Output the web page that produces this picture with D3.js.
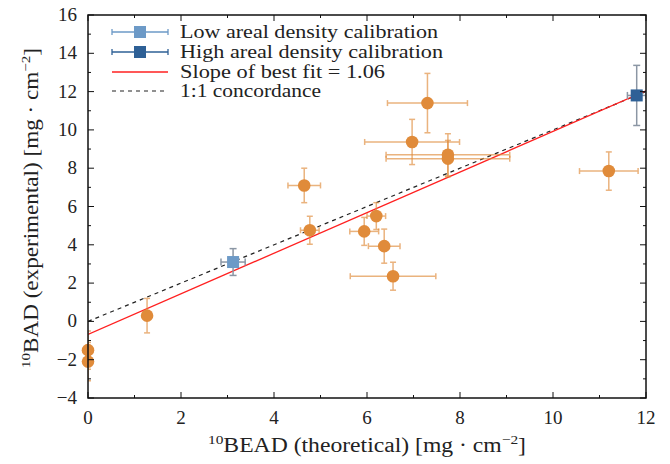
<!DOCTYPE html>
<html>
<head>
<meta charset="utf-8">
<script src="https://cdnjs.cloudflare.com/ajax/libs/d3/7.8.5/d3.min.js"></script>
<style>
  body { margin: 0; background: #fff; }
  svg text { font-family: "Liberation Serif", "DejaVu Serif", serif; fill: #222; }
</style>
</head>
<body>
<svg id="chart" width="670" height="464"></svg>
<script>
// sample points: theoretical x, experimental y, errors
const sampleX    = [0, 0, 1.27, 4.65, 4.77, 6.2, 5.94, 6.37, 6.56, 7.3, 6.97, 7.74, 7.74, 11.2]
const sampleY    = [-1.5, -2.1, 0.3, 7.1, 4.76, 5.5, 4.7, 3.93, 2.36, 11.4, 9.37, 8.7, 8.5, 7.85]
const sampleXErr = [0, 0, 0, 0.35, 0.2, 0.2, 0.31, 0.34, 0.92, 0.86, 1.02, 1.33, 1.33, 0.63]
const sampleYErr = [1.0, 1.0, 0.9, 0.9, 0.73, 0.7, 0.73, 0.89, 0.73, 1.55, 1.18, 1.1, 0.95, 1.0]

const calibNames = ["Low areal density calibration", "High areal density calibration"]
const calibX     = [3.12, 11.8]
const calibY     = [3.1, 11.8]
const calibXErr  = [0.26, 0.2]
const calibYErr  = [0.7, 1.57]

const fitSlope = 1.06
const fitIntercept = -0.68

const xTicks = [0, 2, 4, 6, 8, 10, 12]
const yTicks = [-4, -2, 0, 2, 4, 6, 8, 10, 12, 14, 16]

const svg = d3.select("#chart")
const pLeft = 88, pRight = 646, pTop = 15, pBottom = 398

const x = d3.scaleLinear().domain([0, 12]).range([pLeft, pRight])
const y = d3.scaleLinear().domain([-4, 16]).range([pBottom, pTop])

const orange = "#e08b3a"
const calibColors = ["#6d9ac7", "#2e6096"]

svg.append("defs").append("clipPath").attr("id", "clip")
  .append("rect").attr("x", pLeft).attr("y", pTop).attr("width", pRight - pLeft).attr("height", pBottom - pTop)

const plot = svg.append("g").attr("clip-path", "url(#clip)")

// lines
plot.append("line")
  .attr("x1", x(0)).attr("y1", y(0)).attr("x2", x(12)).attr("y2", y(12))
  .attr("stroke", "#222").attr("stroke-width", 1.2).attr("stroke-dasharray", "4,4")
plot.append("line")
  .attr("x1", x(0)).attr("y1", y(fitIntercept)).attr("x2", x(12)).attr("y2", y(fitSlope * 12 + fitIntercept))
  .attr("stroke", "#ff2020").attr("stroke-width", 1.3)

function errorBars(g, cx, cy, ex, ey, color, cap) {
  if (ex > 0) {
    g.append("line").attr("x1", x(cx - ex)).attr("x2", x(cx + ex)).attr("y1", y(cy)).attr("y2", y(cy))
      .attr("stroke", color).attr("stroke-width", 1.5)
    ;[cx - ex, cx + ex].forEach(v => g.append("line").attr("x1", x(v)).attr("x2", x(v))
      .attr("y1", y(cy) - cap).attr("y2", y(cy) + cap).attr("stroke", color).attr("stroke-width", 1.5))
  }
  g.append("line").attr("x1", x(cx)).attr("x2", x(cx)).attr("y1", y(cy - ey)).attr("y2", y(cy + ey))
    .attr("stroke", color).attr("stroke-width", 1.5)
  ;[cy - ey, cy + ey].forEach(v => g.append("line").attr("y1", y(v)).attr("y2", y(v))
    .attr("x1", x(cx) - cap).attr("x2", x(cx) + cap).attr("stroke", color).attr("stroke-width", 1.5))
}

const bars = plot.append("g")
sampleX.forEach((v, i) => {
  const g = bars.append("g").attr("opacity", 0.65)
  errorBars(g, v, sampleY[i], sampleXErr[i], sampleYErr[i], orange, 3)
})
// markers are not clipped
const pts = svg.append("g")
sampleX.forEach((v, i) => {
  pts.append("circle").attr("cx", x(v)).attr("cy", y(sampleY[i])).attr("r", 6.3).attr("fill", orange)
})

calibX.forEach((v, i) => {
  errorBars(plot.append("g"), v, calibY[i], calibXErr[i], calibYErr[i], "#8b96a4", 3.5)
  pts.append("rect").attr("x", x(v) - 6).attr("y", y(calibY[i]) - 6).attr("width", 12).attr("height", 12)
    .attr("fill", calibColors[i])
})

// frame and ticks
const frame = svg.append("g")
frame.append("rect").attr("x", pLeft).attr("y", pTop).attr("width", pRight - pLeft).attr("height", pBottom - pTop)
  .attr("fill", "none").attr("stroke", "#111").attr("stroke-width", 1.5)

d3.range(0, 12.01, 1).forEach(v => {
  const len = v % 2 === 0 ? 6 : 3
  frame.append("line").attr("x1", x(v)).attr("x2", x(v)).attr("y1", pBottom).attr("y2", pBottom - len).attr("stroke", "#111")
  frame.append("line").attr("x1", x(v)).attr("x2", x(v)).attr("y1", pTop).attr("y2", pTop + len).attr("stroke", "#111")
})
d3.range(-4, 16.01, 1).forEach(v => {
  const len = v % 2 === 0 ? 6 : 3
  frame.append("line").attr("y1", y(v)).attr("y2", y(v)).attr("x1", pLeft).attr("x2", pLeft + len).attr("stroke", "#111")
  frame.append("line").attr("y1", y(v)).attr("y2", y(v)).attr("x1", pRight).attr("x2", pRight - len).attr("stroke", "#111")
})

svg.selectAll("text.xtick").data(xTicks).enter().append("text")
  .attr("class", "xtick").attr("x", d => x(d)).attr("y", 424)
  .attr("text-anchor", "middle").attr("font-size", 19).text(d => d)

svg.selectAll("text.ytick").data(yTicks).enter().append("text")
  .attr("class", "ytick").attr("x", 77).attr("y", d => y(d) + 6)
  .attr("text-anchor", "end").attr("font-size", 19).text(d => d < 0 ? "\u2212" + (-d) : d)

// axis labels
const xl = svg.append("text").attr("x", 367).attr("y", 452).attr("text-anchor", "middle").attr("font-size", 20)
  .attr("textLength", 318).attr("lengthAdjust", "spacingAndGlyphs")
xl.append("tspan").attr("font-size", 13).attr("dy", -8).text("10")
xl.append("tspan").attr("dy", 8).text("BEAD (theoretical) [mg \u00b7 cm")
xl.append("tspan").attr("font-size", 13).attr("dy", -8).text("\u22122")
xl.append("tspan").attr("dy", 8).text("]")

const yl = svg.append("text").attr("transform", "translate(38,208) rotate(-90)")
  .attr("text-anchor", "middle").attr("font-size", 20)
  .attr("textLength", 320).attr("lengthAdjust", "spacingAndGlyphs")
yl.append("tspan").attr("font-size", 13).attr("dy", -8).text("10")
yl.append("tspan").attr("dy", 8).text("BAD (experimental) [mg \u00b7 cm")
yl.append("tspan").attr("font-size", 13).attr("dy", -8).text("\u22122")
yl.append("tspan").attr("dy", 8).text("]")

// legend
const legY = [32, 52, 72, 91]
const leg = svg.append("g")
calibNames.forEach((name, i) => {
  leg.append("line").attr("x1", 112).attr("x2", 168).attr("y1", legY[i]).attr("y2", legY[i])
    .attr("stroke", calibColors[i]).attr("stroke-width", 1.3)
  ;[112, 168].forEach(v => leg.append("line").attr("x1", v).attr("x2", v).attr("y1", legY[i] - 3).attr("y2", legY[i] + 3)
    .attr("stroke", calibColors[i]).attr("stroke-width", 1.3))
  leg.append("rect").attr("x", 134).attr("y", legY[i] - 6).attr("width", 12).attr("height", 12).attr("fill", calibColors[i])
})
leg.append("line").attr("x1", 112).attr("x2", 168).attr("y1", legY[2]).attr("y2", legY[2]).attr("stroke", "#ff2020").attr("stroke-width", 1.3)
leg.append("line").attr("x1", 112).attr("x2", 168).attr("y1", legY[3]).attr("y2", legY[3])
  .attr("stroke", "#222").attr("stroke-width", 1.2).attr("stroke-dasharray", "4,4")
const legText = [calibNames[0], calibNames[1], "Slope of best fit = 1.06", "1:1 concordance"]
const legWidth = [258, 263, 205, 141]
legText.forEach((t, i) => {
  leg.append("text").attr("x", 180).attr("y", legY[i] + 6).attr("font-size", 19)
    .attr("textLength", legWidth[i]).attr("lengthAdjust", "spacingAndGlyphs").text(t)
})
</script>
</body>
</html>
